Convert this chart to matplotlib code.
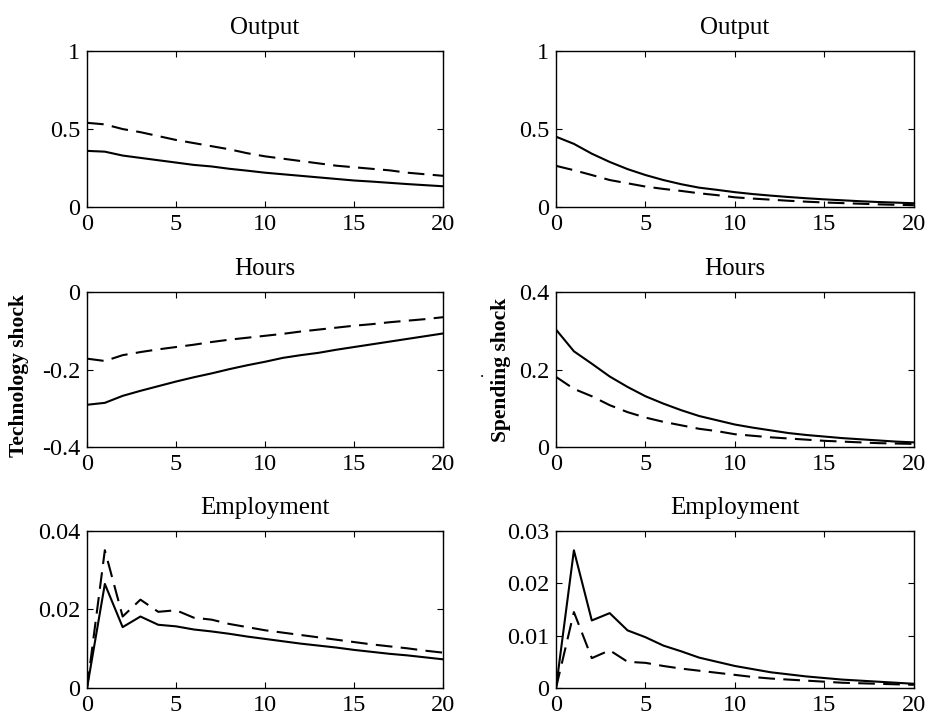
import matplotlib.pyplot as plt

plt.rcParams['font.family'] = ['Liberation Serif', 'DejaVu Serif']

horizon = list(range(21))

# technology shock
tech_output_solid = [0.36, 0.355, 0.33, 0.315, 0.30, 0.285, 0.27, 0.26, 0.245, 0.233, 0.22,
                     0.21, 0.20, 0.19, 0.18, 0.17, 0.163, 0.155, 0.147, 0.14, 0.133]
tech_output_dash = [0.54, 0.53, 0.50, 0.48, 0.455, 0.43, 0.41, 0.39, 0.37, 0.345, 0.325,
                    0.31, 0.295, 0.28, 0.265, 0.255, 0.245, 0.235, 0.22, 0.21, 0.20]
tech_hours_solid = [-0.291, -0.286, -0.268, -0.255, -0.243, -0.231, -0.22, -0.21, -0.199, -0.189, -0.18,
                    -0.17, -0.163, -0.157, -0.149, -0.142, -0.135, -0.128, -0.121, -0.114, -0.107]
tech_hours_dash = [-0.172, -0.178, -0.163, -0.155, -0.148, -0.142, -0.136, -0.129, -0.123, -0.118, -0.113,
                   -0.108, -0.102, -0.097, -0.092, -0.087, -0.083, -0.078, -0.074, -0.07, -0.065]
tech_emp_solid = [0.0, 0.0265, 0.0155, 0.0182, 0.0161, 0.0157, 0.0149, 0.0144, 0.0138, 0.0131, 0.0125,
                  0.0119, 0.0113, 0.0108, 0.0103, 0.0097, 0.0092, 0.0087, 0.0083, 0.0078, 0.0073]
tech_emp_dash = [0.0, 0.0351, 0.0182, 0.0225, 0.0194, 0.0198, 0.0179, 0.0174, 0.0163, 0.0155, 0.0147,
                 0.0141, 0.0135, 0.0129, 0.0123, 0.0117, 0.0111, 0.0106, 0.0101, 0.0095, 0.009]

# spending shock
spend_output_solid = [0.451, 0.405, 0.342, 0.289, 0.243, 0.205, 0.173, 0.146, 0.124, 0.11, 0.095,
                      0.083, 0.073, 0.064, 0.056, 0.049, 0.043, 0.037, 0.032, 0.028, 0.024]
spend_output_dash = [0.264, 0.236, 0.205, 0.173, 0.152, 0.131, 0.116, 0.103, 0.088, 0.076, 0.062,
                     0.054, 0.047, 0.04, 0.034, 0.029, 0.025, 0.021, 0.017, 0.014, 0.012]
spend_hours_solid = [0.303, 0.247, 0.215, 0.182, 0.155, 0.131, 0.112, 0.095, 0.08, 0.069, 0.058,
                     0.05, 0.043, 0.036, 0.031, 0.027, 0.023, 0.02, 0.017, 0.014, 0.012]
spend_hours_dash = [0.181, 0.150, 0.131, 0.108, 0.09, 0.076, 0.065, 0.056, 0.047, 0.041, 0.033,
                    0.029, 0.025, 0.022, 0.019, 0.016, 0.014, 0.012, 0.01, 0.009, 0.008]
spend_emp_solid = [0.0, 0.0263, 0.0129, 0.0143, 0.011, 0.0097, 0.0081, 0.007, 0.0058, 0.005, 0.0042,
                   0.0036, 0.003, 0.0026, 0.0022, 0.0019, 0.0016, 0.0014, 0.0012, 0.001, 0.0008]
spend_emp_dash = [0.0, 0.0145, 0.0057, 0.0072, 0.005, 0.0048, 0.0042, 0.0037, 0.0033, 0.0029, 0.0025,
                  0.0021, 0.0018, 0.0016, 0.0014, 0.0012, 0.001, 0.0009, 0.0008, 0.0007, 0.0006]

titles = ['Output', 'Hours', 'Employment']
panels = [
    [(tech_output_solid, tech_output_dash, (0, 1), [0, 0.5, 1], ['0', '0.5', '1']),
     (spend_output_solid, spend_output_dash, (0, 1), [0, 0.5, 1], ['0', '0.5', '1'])],
    [(tech_hours_solid, tech_hours_dash, (-0.4, 0), [-0.4, -0.2, 0], ['-0.4', '-0.2', '0']),
     (spend_hours_solid, spend_hours_dash, (0, 0.4), [0, 0.2, 0.4], ['0', '0.2', '0.4'])],
    [(tech_emp_solid, tech_emp_dash, (0, 0.04), [0, 0.02, 0.04], ['0', '0.02', '0.04']),
     (spend_emp_solid, spend_emp_dash, (0, 0.03), [0, 0.01, 0.02, 0.03], ['0', '0.01', '0.02', '0.03'])],
]

fig = plt.figure(figsize=(9.27, 7.15), dpi=100)
lefts = [0.0939, 0.5998]
widths = [0.384, 0.386]
bottoms = [0.7105, 0.3748, 0.0378]
heights = [0.218, 0.2168, 0.2196]

for r in range(3):
    for c in range(2):
        solid, dash, ylim, yticks, ylabels = panels[r][c]
        ax = fig.add_axes([lefts[c], bottoms[r], widths[c], heights[r]])
        ax.plot(horizon, solid, color='black', lw=1.5)
        ax.plot(horizon, dash, color='black', lw=1.5, dashes=(8, 4))
        ax.set_xlim(0, 20)
        ax.set_ylim(*ylim)
        ax.set_xticks([0, 5, 10, 15, 20])
        ax.set_yticks(yticks)
        ax.set_yticklabels(ylabels)
        ax.tick_params(direction='in', top=True, right=True, labelsize=17.5, length=4)
        ax.tick_params(axis='x', pad=5)
        ax.tick_params(axis='y', pad=5)
        ax.set_title(titles[r], fontsize=18, pad=12)
        for s in ax.spines.values():
            s.set_linewidth(1.0)

fig.text(0.02, 0.475, 'Technology shock', rotation=90, ha='center', va='center',
         fontsize=15.5, fontweight='bold')
fig.text(0.540, 0.482, 'Spending shock', rotation=90, ha='center', va='center',
         fontsize=15.5, fontweight='bold')
fig.text(0.52, 0.478, '.', ha='center', va='center', fontsize=12)

fig.savefig('out.png', dpi=100)
